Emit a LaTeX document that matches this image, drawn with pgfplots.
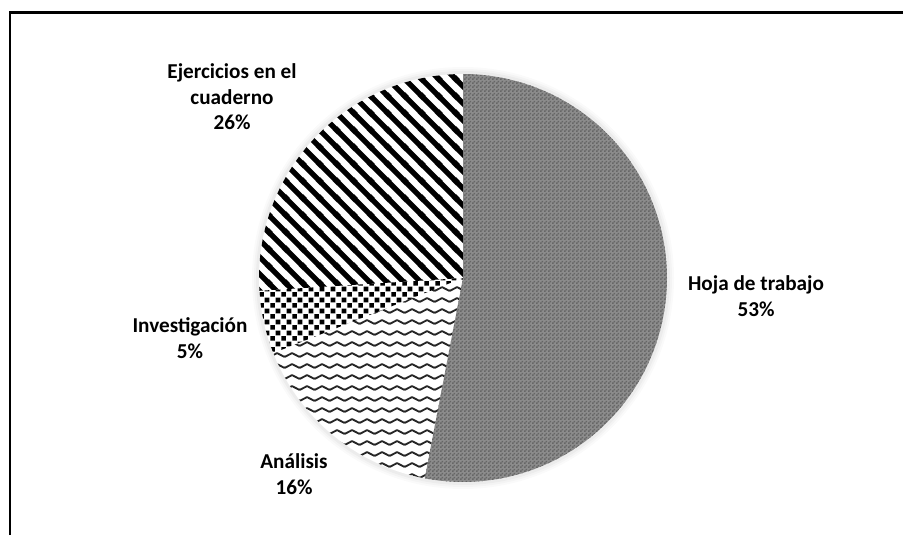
\documentclass[border=0pt]{standalone}
\usepackage{fontspec}
\setmainfont{Carlito}
\usepackage{pgfplots}
\pgfplotsset{compat=1.18}
\usetikzlibrary{patterns}

% patterns (1px = 0.5pt)
\pgfdeclarepatternformonly{hojap}{\pgfqpoint{0pt}{0pt}}{\pgfqpoint{2pt}{2pt}}{\pgfqpoint{2pt}{2pt}}{%
  \pgfpathrectangle{\pgfqpoint{0pt}{0pt}}{\pgfqpoint{1pt}{1pt}}%
  \pgfpathrectangle{\pgfqpoint{1pt}{1pt}}{\pgfqpoint{1pt}{1pt}}%
  \pgfusepath{fill}}
\pgfdeclarepatternformonly{stripesp}{\pgfqpoint{0pt}{0pt}}{\pgfqpoint{8.4pt}{8.4pt}}{\pgfqpoint{8.4pt}{8.4pt}}{%
  \pgfsetlinewidth{2.7pt}%
  \pgfpathmoveto{\pgfqpoint{-1.5pt}{9.9pt}}\pgfpathlineto{\pgfqpoint{9.9pt}{-1.5pt}}%
  \pgfpathmoveto{\pgfqpoint{-1.5pt}{1.5pt}}\pgfpathlineto{\pgfqpoint{1.5pt}{-1.5pt}}%
  \pgfpathmoveto{\pgfqpoint{6.9pt}{9.9pt}}\pgfpathlineto{\pgfqpoint{9.9pt}{6.9pt}}%
  \pgfusepath{stroke}}
\pgfdeclarepatternformonly{checkp}{\pgfqpoint{0pt}{0pt}}{\pgfqpoint{5.4pt}{5.4pt}}{\pgfqpoint{5.4pt}{5.4pt}}{%
  \pgfpathrectangle{\pgfqpoint{0.2pt}{0.2pt}}{\pgfqpoint{2.3pt}{2.3pt}}%
  \pgfpathrectangle{\pgfqpoint{2.9pt}{2.9pt}}{\pgfqpoint{2.3pt}{2.3pt}}%
  \pgfusepath{fill}}
\pgfdeclarepatternformonly{wavep}{\pgfqpoint{0pt}{0pt}}{\pgfqpoint{7.5pt}{5.5pt}}{\pgfqpoint{7.5pt}{5.5pt}}{%
  \pgfsetlinewidth{1pt}\pgfsetroundjoin
  \pgfpathmoveto{\pgfqpoint{-3.75pt}{3.75pt}}%
  \pgfpathlineto{\pgfqpoint{0pt}{1.75pt}}%
  \pgfpathlineto{\pgfqpoint{3.75pt}{3.75pt}}%
  \pgfpathlineto{\pgfqpoint{7.5pt}{1.75pt}}%
  \pgfpathlineto{\pgfqpoint{11.25pt}{3.75pt}}%
  \pgfusepath{stroke}}

\begin{document}
\begin{tikzpicture}[lbl/.style={align=center, font=\fontsize{10.6pt}{12.8pt}\selectfont\bfseries, inner sep=0pt}]
\useasboundingbox (0,0) rectangle (451.5pt,267.5pt);
% data (percent)
\def\vHoja{53}\def\vAnal{16}\def\vInv{5}\def\vEjer{26}
\pgfmathsetmacro\aA{90}
\pgfmathsetmacro\aB{\aA-3.6*\vHoja}
\pgfmathsetmacro\aC{\aB-3.6*\vAnal}
\pgfmathsetmacro\aD{\aC-3.6*\vInv}
\pgfmathsetmacro\aE{\aD-3.6*\vEjer}
\begin{axis}[
  at={(0,0)}, anchor=south west,
  scale only axis, width=451.5pt, height=267.5pt,
  xmin=0, xmax=903, ymin=0, ymax=535,
  hide axis, clip=false,
]
% soft shadow
\fill[black, opacity=0.02] (axis cs:463,257) circle[radius=211];
\fill[black, opacity=0.025] (axis cs:463,257) circle[radius=209];
\fill[black, opacity=0.03] (axis cs:463,257) circle[radius=207];
\fill[white] (axis cs:463,257) circle[radius=204];
% slices
\addplot[draw=none, fill=black!45, domain=\aB:\aA, samples=90]
  ({463+204*cos(x)},{257+204*sin(x)}) -- (axis cs:463,257) -- cycle;
\addplot[draw=none, pattern=hojap, pattern color=black!60, domain=\aB:\aA, samples=90]
  ({463+204*cos(x)},{257+204*sin(x)}) -- (axis cs:463,257) -- cycle;
\addplot[draw=none, pattern=wavep, pattern color=black!85, domain=\aC:\aB, samples=40]
  ({463+204*cos(x)},{257+204*sin(x)}) -- (axis cs:463,257) -- cycle;
\addplot[draw=none, pattern=checkp, pattern color=black, domain=\aD:\aC, samples=20]
  ({463+204*cos(x)},{257+204*sin(x)}) -- (axis cs:463,257) -- cycle;
\addplot[draw=none, pattern=stripesp, pattern color=black, domain=\aE:\aD, samples=60]
  ({463+204*cos(x)},{257+204*sin(x)}) -- (axis cs:463,257) -- cycle;
% labels
\node[lbl] at (axis cs:232,438) {Ejercicios en el\\cuaderno\\26\%};
\node[lbl] at (axis cs:756,239) {Hoja de trabajo\\53\%};
\node[lbl] at (axis cs:190,197) {Investigación\\5\%};
\node[lbl] at (axis cs:294,61) {Análisis\\16\%};
% chart border
\draw[line width=1.1pt, black] (axis cs:10,0) -- (axis cs:10,522.5) -- (axis cs:903,522.5);
\end{axis}
\end{tikzpicture}
\end{document}
